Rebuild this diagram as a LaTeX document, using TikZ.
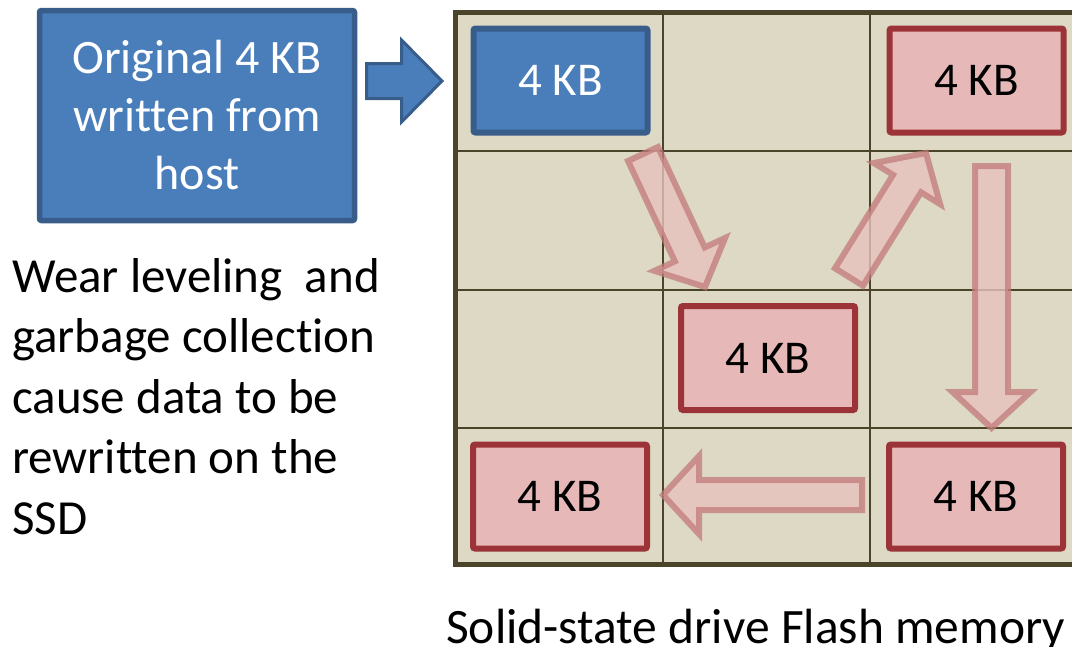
\documentclass[tikz,border=0pt]{standalone}
\usepackage{fontspec}
\setmainfont[Ligatures={NoCommon}]{Carlito}
\usetikzlibrary{calc}
\definecolor{bluefill}{HTML}{4A7EBB}
\definecolor{blueedge}{HTML}{385D8A}
\definecolor{redfill}{HTML}{E6B9B8}
\definecolor{rededge}{HTML}{9B3338}
\definecolor{gridfill}{HTML}{DDD9C4}
\definecolor{gridline}{HTML}{4A452A}
\definecolor{arrowfill}{HTML}{E8C2BE}
\definecolor{arrowedge}{HTML}{C27A7A}
\newcommand\blockarrowpath[5]{% style, tail, tip, shaft half width, head half width
  \coordinate (hb) at ($(#3)!36pt!(#2)$);
  \draw[#1] ($(#2)!#4!90:(#3)$) -- ($(hb)!#4!90:(#3)$) -- ($(hb)!#5!90:(#3)$) -- (#3)
     -- ($(hb)!#5!-90:(#3)$) -- ($(hb)!#4!-90:(#3)$) -- ($(#2)!#4!-90:(#3)$) -- cycle;
}
\tikzset{
  kb/.style={draw=rededge, fill=redfill, line width=6pt, rounded corners=2pt,
    minimum width=174pt, minimum height=104pt, inner sep=0pt,
    font=\fontsize{47}{56}\selectfont, text=black},
  kbblue/.style={kb, draw=blueedge, fill=bluefill, text=white},
  hostbox/.style={draw=blueedge, fill=bluefill, line width=5.5pt, rounded corners=2pt,
    minimum width=315pt, minimum height=210pt, inner sep=0pt, align=center,
    font=\fontsize{48}{58}\selectfont, text=white},
  flow/.style={fill=arrowfill, draw=arrowedge, line width=6pt, fill opacity=0.8,
    draw opacity=0.75, line join=miter},
  hostarrow/.style={fill=bluefill, draw=blueedge, line width=3pt, line join=miter},
  gridouter/.style={draw=gridline, line width=5pt},
  gridinner/.style={draw=gridline, line width=1.8pt},
  plain/.style={inner sep=0pt, text=black},
}
\begin{document}
\begin{tikzpicture}[x=1pt, y=-1pt]
\useasboundingbox (0,0) rectangle (1072,646);
\clip (0,0) rectangle (1072,646);
% host box
\node[hostbox] (host) at (197,115.5) {Original 4 KB\\written from\\host};
% flash grid
\fill[gridfill] (455,12) rectangle (1080,564);
\draw[gridinner] (663,12) -- (663,564) (870,12) -- (870,564)
  (455,151) -- (1080,151) (455,290) -- (1080,290) (455,428) -- (1080,428);
\draw[gridouter] (455,12) rectangle (1080,564);
% blocks
\node[kbblue] (b1) at (560.5,80.5) {4 KB};
\node[kb] (r1) at (976.5,80.5) {4 KB};
\node[kb] (r2) at (768,358) {4 KB};
\node[kb] (r3) at (560,496.5) {4 KB};
\node[kb] (r4) at (976,496.5) {4 KB};
% host arrow
\coordinate (bt) at (366.5,81);
\coordinate (bp) at (442,81);
\draw[hostarrow] ($(bt)+(0,-17.5)$) -- ++(35,0) -- ++(0,-23.5) -- (bp) -- ++(-40.5,41)
  -- ++(0,-23.5) -- ($(bt)+(0,17.5)$) -- cycle;
% relocation arrows
\coordinate (t1) at (643,154);   \coordinate (p1) at (705,287);
\coordinate (t2) at (849,277);   \coordinate (p2) at (926,153);
\coordinate (t3) at (991.5,166); \coordinate (p3) at (991.5,428);
\coordinate (t4) at (862,495);   \coordinate (p4) at (663,495);
\blockarrowpath{flow}{t1}{p1}{16.5pt}{39pt}
\blockarrowpath{flow}{t2}{p2}{16.5pt}{39pt}
\blockarrowpath{flow}{t3}{p3}{16.5pt}{39pt}
\blockarrowpath{flow}{t4}{p4}{15pt}{39pt}
% texts
\node[plain, anchor=north west, align=left, font=\fontsize{49}{60.5}\selectfont] (note) at (12,258)
  {Wear leveling\ \ and\\garbage collection\\cause data to be\\rewritten on the\\SSD};
\node[plain, anchor=base west, font=\fontsize{49.5}{58}\selectfont] (cap) at (446,643)
  {Solid-state drive Flash memory};
\end{tikzpicture}
\end{document}
